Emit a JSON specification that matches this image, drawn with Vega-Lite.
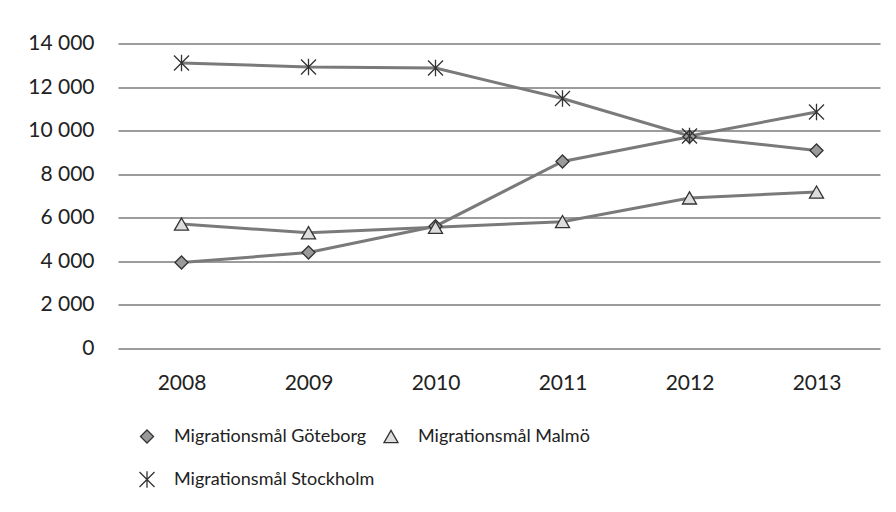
{
  "$schema": "https://vega.github.io/schema/vega-lite/v6.json",
  "autosize": {"type": "none"},
  "padding": {"left": 118, "top": 43.5, "right": 16, "bottom": 164},
  "width": 762,
  "height": 304.5,
  "background": "white",
  "config": {
    "view": {"stroke": null},
    "font": "Lato",
    "axis": {"labelFont": "Lato", "labelColor": "#222", "labelFontSize": 21}
  },
  "data": {
    "values": [
      {"serie": "Migrationsmål Göteborg", "year": "2008", "value": 3930},
      {"serie": "Migrationsmål Göteborg", "year": "2009", "value": 4390},
      {"serie": "Migrationsmål Göteborg", "year": "2010", "value": 5600},
      {"serie": "Migrationsmål Göteborg", "year": "2011", "value": 8575},
      {"serie": "Migrationsmål Göteborg", "year": "2012", "value": 9715},
      {"serie": "Migrationsmål Göteborg", "year": "2013", "value": 9080},
      {"serie": "Migrationsmål Malmö", "year": "2008", "value": 5700},
      {"serie": "Migrationsmål Malmö", "year": "2009", "value": 5300},
      {"serie": "Migrationsmål Malmö", "year": "2010", "value": 5550},
      {"serie": "Migrationsmål Malmö", "year": "2011", "value": 5810},
      {"serie": "Migrationsmål Malmö", "year": "2012", "value": 6900},
      {"serie": "Migrationsmål Malmö", "year": "2013", "value": 7170},
      {"serie": "Migrationsmål Stockholm", "year": "2008", "value": 13100},
      {"serie": "Migrationsmål Stockholm", "year": "2009", "value": 12920},
      {"serie": "Migrationsmål Stockholm", "year": "2010", "value": 12870},
      {"serie": "Migrationsmål Stockholm", "year": "2011", "value": 11470},
      {"serie": "Migrationsmål Stockholm", "year": "2012", "value": 9750},
      {"serie": "Migrationsmål Stockholm", "year": "2013", "value": 10850}
    ]
  },
  "encoding": {
    "x": {
      "field": "year", "type": "ordinal",
      "scale": {"type": "point", "padding": 0.5},
      "axis": {"title": null, "labelAngle": 0, "ticks": false, "domain": false, "labelPadding": 24, "grid": false}
    },
    "y": {
      "field": "value", "type": "quantitative",
      "scale": {"domain": [0, 14000], "nice": false},
      "axis": {
        "title": null, "values": [0, 2000, 4000, 6000, 8000, 10000, 12000, 14000],
        "ticks": false, "domain": false, "labelPadding": 24,
        "gridColor": "#3a3a3a", "gridWidth": 1.2,
        "labelExpr": "replace(format(datum.value, ','), ',', ' ')"
      }
    }
  },
  "layer": [
    {
      "mark": {"type": "line", "stroke": "#7a7a7a", "strokeWidth": 3},
      "encoding": {"detail": {"field": "serie"}}
    },
    {
      "mark": {"type": "point", "filled": false, "opacity": 1},
      "encoding": {
        "shape": {
          "field": "serie", "type": "nominal",
          "scale": {
            "domain": ["Migrationsmål Göteborg", "Migrationsmål Malmö", "Migrationsmål Stockholm"],
            "range": ["diamond", "triangle-up", "M-1,-1L1,1M-1,1L1,-1M0,-1.1L0,1.1"]
          },
          "legend": {
            "title": null,
            "orient": "none",
            "legendX": 20,
            "legendY": 384,
            "direction": "horizontal",
            "columns": 2,
            "gridAlign": "none",
            "columnPadding": 6,
            "rowPadding": 22,
            "symbolStrokeWidth": 1.3,
            "symbolStrokeColor": "#333",
            "labelFont": "Lato",
            "labelFontSize": 18,
            "labelColor": "#222",
            "labelOffset": 18,
            "labelLimit": 400
          }
        },
        "size": {
          "field": "serie", "type": "nominal",
          "scale": {
            "domain": ["Migrationsmål Göteborg", "Migrationsmål Malmö", "Migrationsmål Stockholm"],
            "range": [170, 225, 280]
          }
        },
        "fill": {
          "field": "serie", "type": "nominal",
          "scale": {
            "domain": ["Migrationsmål Göteborg", "Migrationsmål Malmö", "Migrationsmål Stockholm"],
            "range": ["#9a9a9a", "#dddddd", "transparent"]
          }
        },
        "stroke": {"value": "#333"},
        "strokeWidth": {"value": 1.3}
      }
    }
  ]
}
